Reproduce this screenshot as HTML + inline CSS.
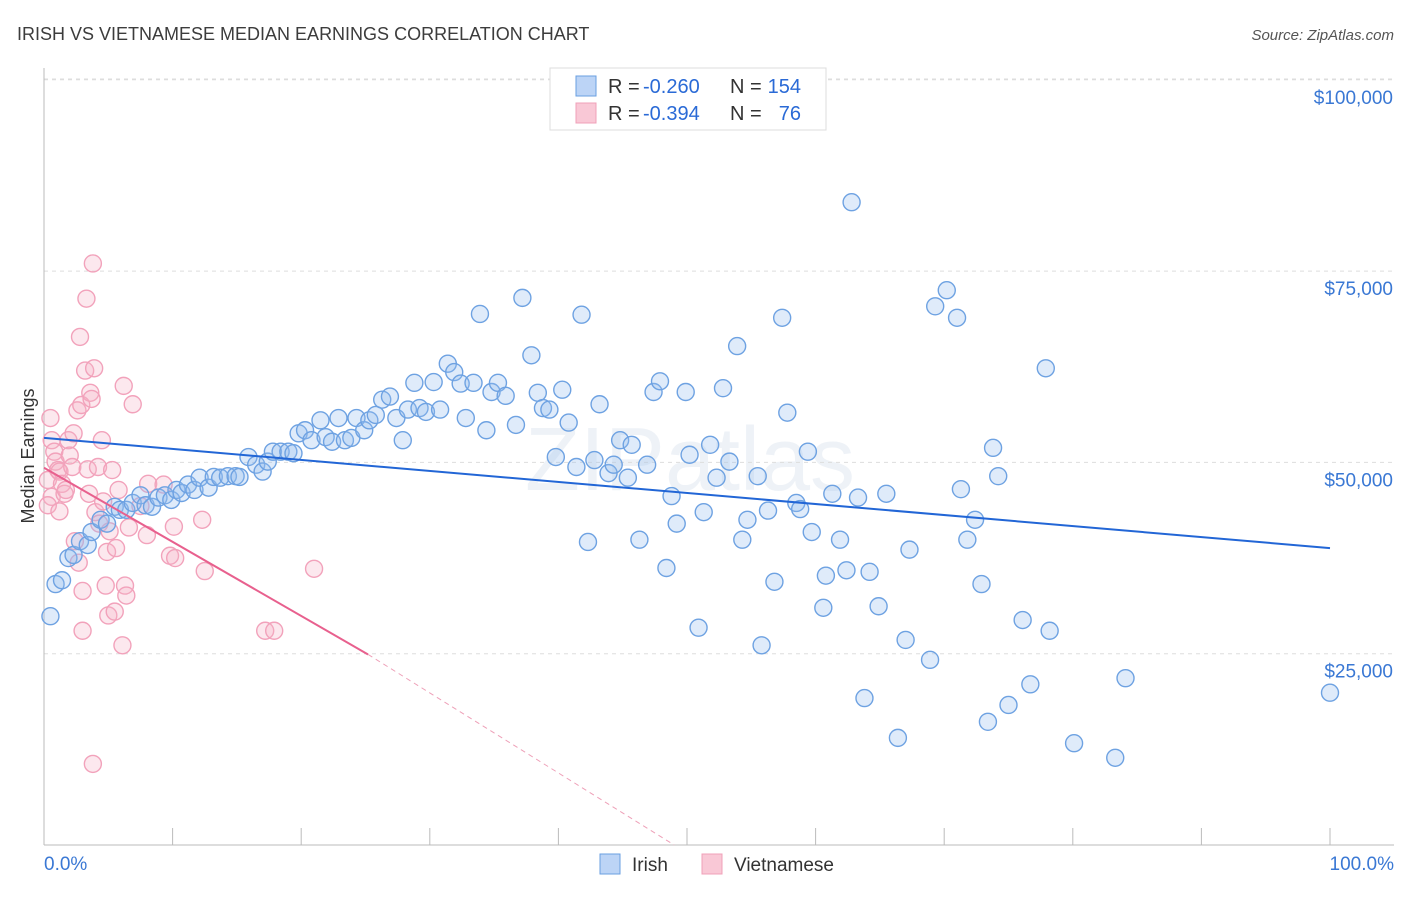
<!DOCTYPE html>
<html><head><meta charset="utf-8"><style>
body{margin:0;background:#fff;font-family:"Liberation Sans",sans-serif;}
svg text{font-family:"Liberation Sans",sans-serif;}
</style></head><body>
<svg id="chart" width="1406" height="892" xmlns="http://www.w3.org/2000/svg">
<text x="17" y="40" font-size="18" fill="#3c3c3c">IRISH VS VIETNAMESE MEDIAN EARNINGS CORRELATION CHART</text>
<text x="1394" y="40" font-size="15" fill="#555" text-anchor="end" font-style="italic">Source: ZipAtlas.com</text>
<text transform="translate(34,456) rotate(-90)" font-size="18" fill="#333" text-anchor="middle">Median Earnings</text>
<text x="690" y="490" font-size="90" fill="#dfe7f0" text-anchor="middle" opacity="0.5">ZIPatlas</text>
<g id="grid"></g><g id="pts"></g><g id="trend"></g>
<text x="44" y="870" font-size="19" fill="#3a78d4">0.0%</text>
<text x="1394" y="870" font-size="19" fill="#3a78d4" text-anchor="end">100.0%</text>
<g>
<rect x="550" y="68" width="276" height="62" fill="#fff" stroke="#ddd"/>
<rect x="576" y="76" width="20" height="20" fill="#bcd4f6" stroke="#6a9fe0"/>
<text x="608" y="93" font-size="20" fill="#333">R =</text>
<text x="643" y="93" font-size="20" fill="#2a6ad6">-0.260</text>
<text x="730" y="93" font-size="20" fill="#333">N =</text>
<text x="801" y="93" font-size="20" fill="#2a6ad6" text-anchor="end">154</text>
<rect x="576" y="103" width="20" height="20" fill="#f9c8d6" stroke="#f0a0b8"/>
<text x="608" y="120" font-size="20" fill="#333">R =</text>
<text x="643" y="120" font-size="20" fill="#2a6ad6">-0.394</text>
<text x="730" y="120" font-size="20" fill="#333">N =</text>
<text x="801" y="120" font-size="20" fill="#2a6ad6" text-anchor="end">76</text>
</g>
<g><rect x="600" y="854" width="20" height="20" fill="#bcd4f6" stroke="#6a9fe0"/><text x="632" y="871" font-size="19" fill="#333">Irish</text></g>
<g><rect x="702" y="854" width="20" height="20" fill="#f9c8d6" stroke="#f0a0b8"/><text x="734" y="871" font-size="19" fill="#333">Vietnamese</text></g>
</svg>
<script>
const yTicks=[25,50,75,100];
const yTickLabels=["$25,000","$50,000","$75,000","$100,000"];
const irishX=[0.5,0.9,1.4,1.9,2.3,2.8,3.4,3.7,4.4,4.9,5.5,5.9,6.4,6.9,7.5,7.9,8.4,8.9,9.4,9.9,10.3,10.7,11.2,11.7,12.1,12.8,13.2,13.7,14.3,14.9,15.2,15.9,16.5,17.0,17.4,17.8,18.4,19.0,19.4,19.8,20.3,20.8,21.5,21.9,22.4,22.9,23.4,23.9,24.3,24.9,25.3,25.8,26.3,26.9,27.4,27.9,28.3,28.8,29.2,29.7,30.3,30.8,31.4,31.9,32.4,32.8,33.4,33.9,34.4,34.8,35.3,35.9,36.7,37.2,37.9,38.4,38.8,39.3,39.8,40.3,40.8,41.4,41.8,42.3,42.8,43.2,43.9,44.3,44.8,45.4,45.7,46.3,46.9,47.4,47.9,48.4,48.8,49.2,49.9,50.2,50.9,51.3,51.8,52.3,52.8,53.3,53.9,54.3,54.7,55.5,55.8,56.3,56.8,57.4,57.8,58.5,58.8,59.4,59.7,60.6,60.8,61.3,61.9,62.4,62.8,63.3,63.8,64.2,64.9,65.5,66.4,67.0,67.3,68.9,69.3,70.2,71.0,71.3,71.8,72.4,72.9,73.4,73.8,74.2,75.0,76.1,76.7,77.9,78.2,80.1,83.3,84.1,100];
const irishY=[29.9,34.1,34.6,37.5,37.9,39.7,39.2,40.9,42.5,42.0,44.2,43.8,43.8,44.7,45.7,44.4,44.2,45.4,45.7,45.1,46.4,46.0,47.1,46.4,48.0,46.7,48.1,48.0,48.2,48.2,48.1,50.7,49.7,48.8,50.1,51.4,51.4,51.4,51.2,53.8,54.2,52.9,55.5,53.3,52.7,55.8,52.9,53.2,55.8,54.2,55.5,56.2,58.2,58.6,55.8,52.9,56.9,60.4,57.1,56.6,60.5,56.9,62.9,61.8,60.3,55.8,60.4,69.4,54.2,59.2,60.4,58.7,54.9,71.5,64.0,59.1,57.1,56.9,50.7,59.5,55.2,49.4,69.3,39.6,50.3,57.6,48.6,49.7,52.9,48.0,52.3,39.9,49.7,59.2,60.6,36.2,45.6,42.0,59.2,51.0,28.4,43.5,52.3,48.0,59.7,50.1,65.2,39.9,42.5,48.2,26.1,43.7,34.4,68.9,56.5,44.7,43.9,51.4,40.9,31.0,35.2,45.9,39.9,35.9,84.0,45.4,19.2,35.7,31.2,45.9,14.0,26.8,38.6,24.2,70.4,72.5,68.9,46.5,39.9,42.5,34.1,16.1,51.9,48.2,18.3,29.4,21.0,62.3,28.0,13.3,11.4,21.8,19.9];
const vietX=[0.5,0.6,0.8,0.9,1.1,0.3,0.6,0.3,1.2,1.4,1.6,1.2,1.7,1.9,2.0,2.2,2.3,2.4,2.6,2.7,2.8,2.9,3.0,3.0,3.2,3.3,3.4,3.5,3.6,3.7,3.8,3.8,3.9,4.0,4.2,4.3,4.5,4.6,4.8,4.9,5.0,5.1,5.3,5.5,5.6,5.8,6.1,6.2,6.3,6.4,6.6,6.9,7.5,8.0,8.1,9.3,9.8,10.1,10.2,12.3,12.5,17.2,17.9,21.0];
const vietY=[55.8,52.9,51.4,50.1,49.0,47.7,45.5,44.4,48.8,47.2,45.9,43.6,46.4,52.9,50.9,49.4,53.8,39.7,56.8,36.9,66.4,57.5,33.2,28.0,62.0,71.4,49.1,45.9,59.1,58.3,10.6,76.0,62.3,43.5,49.4,42.0,52.9,44.9,33.9,38.3,30.0,41.0,49.0,30.5,38.8,46.4,26.1,60.0,33.9,32.6,41.5,57.6,44.3,40.5,47.2,47.1,37.8,41.6,37.5,42.5,35.8,28.0,28.0,36.1];
const irishTrend=[0,53.2,100,38.8];
const vietTrend=[0,49.3,25.2,24.9,49,0];
const X0=44,X1=1330,YB=845,YPX=191.3/25;
const sx=v=>X0+(X1-X0)*v/100, sy=v=>YB-v*YPX;
const NS="http://www.w3.org/2000/svg";
function mk(t,a,p){const e=document.createElementNS(NS,t);for(const k in a)e.setAttribute(k,a[k]);p.appendChild(e);return e;}
const grid=document.getElementById('grid');
yTicks.forEach((t,i)=>{
 const l=mk('line',{x1:X0,x2:1394,y1:sy(t),y2:sy(t),stroke:'#ddd','stroke-dasharray':'4,4'},grid);
 
 
 const tx=mk('text',{x:1393,y:sy(t)+24,'font-size':19,fill:'#3a78d4','text-anchor':'end'},grid);
 tx.textContent=yTickLabels[i];
 
 
});
const topLine=mk('line',{x1:X0,x2:1394,y1:79,y2:79,stroke:'#ddd','stroke-dasharray':'4,4'},grid);


const ya=mk('line',{x1:X0,x2:X0,y1:68,y2:YB,stroke:'#bbb'},grid);


const xa=mk('line',{x1:X0,x2:1394,y1:YB,y2:YB,stroke:'#bbb'},grid);


for(let i=0;i<=10;i++){const t=mk('line',{x1:sx(i*10),x2:sx(i*10),y1:828,y2:YB,stroke:'#bbb'},grid);
 
 }
const pts=document.getElementById('pts');
vietX.forEach((x,i)=>{const c=mk('circle',{cx:sx(x),cy:sy(vietY[i]),r:8.5,fill:'rgba(246,180,200,0.3)',stroke:'#f2a2bb','stroke-width':1.4},pts);
 
 });
irishX.forEach((x,i)=>{const c=mk('circle',{cx:sx(x),cy:sy(irishY[i]),r:8.5,fill:'rgba(150,190,240,0.3)',stroke:'#6ea2e2','stroke-width':1.4},pts);
 
 });
const tr=document.getElementById('trend');
const it=mk('line',{x1:sx(irishTrend[0]),y1:sy(irishTrend[1]),x2:sx(irishTrend[2]),y2:sy(irishTrend[3]),stroke:'#2266d6','stroke-width':2},tr);


const vt=mk('line',{x1:sx(vietTrend[0]),y1:sy(vietTrend[1]),x2:sx(vietTrend[2]),y2:sy(vietTrend[3]),stroke:'#e8608e','stroke-width':2},tr);


const vd=mk('line',{x1:sx(vietTrend[2]),y1:sy(vietTrend[3]),x2:sx(vietTrend[4]),y2:sy(vietTrend[5]),stroke:'#eea0b8','stroke-width':1,'stroke-dasharray':'5,4'},tr);


</script>
</body></html>
